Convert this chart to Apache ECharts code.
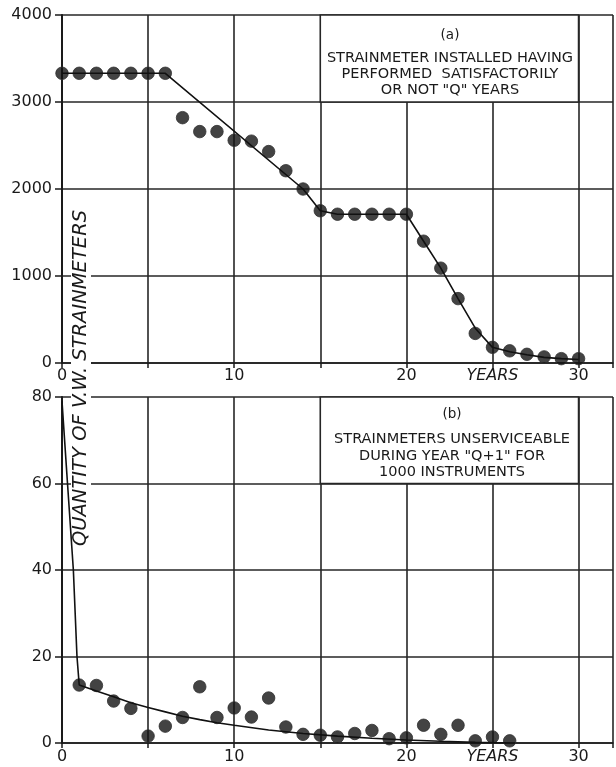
<!DOCTYPE html>
<html><head><meta charset="utf-8">
<script src="https://cdn.jsdelivr.net/npm/echarts@6/dist/echarts.min.js"></script>
<style>html,body{margin:0;padding:0;background:#fff}#c{width:616px;height:767px}</style>
</head><body><div id="c"></div>
<script>
// (a) strainmeters installed having performed satisfactorily or not "Q" years
const yearsA = [0,1,2,3,4,5,6,7,8,9,10,11,12,13,14,15,16,17,18,19,20,21,22,23,24,25,26,27,28,29,30];
const installedA = [3330,3330,3330,3330,3330,3330,3330,2820,2660,2660,2560,2550,2430,2210,2000,1750,1710,1710,1710,1710,1710,1400,1090,740,340,180,140,100,70,50,50];
const fitYearsA = [0,6,14,15,16,20,21,22,23,24,25,26,27,28,29,30];
const fitValuesA = [3330,3330,2000,1750,1710,1710,1400,1090,740,400,180,130,95,65,50,40];

// (b) strainmeters unserviceable during year "Q+1" for 1000 instruments
const yearsB = [1,2,3,4,5,6,7,8,9,10,11,12,13,14,15,16,17,18,19,20,21,22,23,24,25,26];
const unserviceableB = [13.4,13.3,9.7,8.0,1.6,3.9,5.9,13.0,5.9,8.1,6.0,10.4,3.7,2.0,1.8,1.4,2.2,2.9,1.0,1.2,4.1,2.0,4.1,0.5,1.4,0.5];
const fitYearsB = [0,0.32,0.66,0.87,1,2,3,4,5,6,7,8,9,10,12,14,16,18,20,22,24,26];
const fitValuesB = [79,60,40,20,13.4,12,10.7,9.3,8.2,7.2,6.2,5.4,4.7,4.1,3.0,2.2,1.6,1.1,0.7,0.4,0.15,0];

const yTicksA = [0,1000,2000,3000,4000];
const yTicksB = [0,20,40,60,80];
const xLabelValues = [0,10,20,25,30];
const xLabelTexts = ['0','10','20','YEARS','30'];
const boxA = {x:[15,30], y:[3000,4000]};
const boxB = {x:[15,30], y:[60,80]};
const textA = ['(a)','STRAINMETER INSTALLED HAVING','PERFORMED  SATISFACTORILY','OR NOT "Q" YEARS'];
const textB = ['(b)','STRAINMETERS UNSERVICEABLE','DURING YEAR "Q+1" FOR','1000 INSTRUMENTS'];
const yTitle = 'QUANTITY OF V.W. STRAINMETERS';

const INK = '#1a1a1a';
const FONT = 'DejaVu Sans';
const zip = (a,b) => a.map((v,i)=>[v,b[i]]);

function xAxis(gi, margin){
  return {
    type:'value', gridIndex:gi, min:0, max:32, interval:5,
    axisLine:{show:true, lineStyle:{color:INK, width:1.5}},
    axisTick:{show:true, length:5, lineStyle:{color:INK, width:1.5}},
    splitLine:{show:true, lineStyle:{color:'#262626', width:1.6}},
    axisLabel:{
      margin:margin, color:INK, fontSize:16, fontFamily:FONT,
      formatter:(v)=>{const i=xLabelValues.indexOf(v); if(i<0) return ''; const t=xLabelTexts[i]; return isNaN(+t)?'{i|'+t+'}':t;},
      rich:{i:{fontStyle:'italic', fontSize:16, fontFamily:FONT, color:INK}}
    }
  };
}
function yAxis(gi, ticks){
  return {
    type:'value', gridIndex:gi, min:ticks[0], max:ticks[ticks.length-1], interval:ticks[1]-ticks[0],
    axisLine:{show:true, lineStyle:{color:INK, width:2}},
    axisTick:{show:true, length:7, lineStyle:{color:INK, width:1.5}},
    splitLine:{show:true, lineStyle:{color:'#262626', width:1.6}},
    axisLabel:{margin:10, color:INK, fontSize:16, fontFamily:FONT, formatter:(v)=>String(v)}
  };
}
function boxArea(b){
  return {silent:true, itemStyle:{color:'#fff', borderColor:'#262626', borderWidth:1.6},
    data:[[{xAxis:b.x[0], yAxis:b.y[0]},{xAxis:b.x[1], yAxis:b.y[1]}]]};
}
function boxTexts(lines, cx, ys){
  return lines.map((t,i)=>({type:'text', x:cx, y:ys[i], z:100,
    style:{text:t, fill:INK, fontSize:i===0?13.5:14.5, fontFamily:FONT, align:'center', verticalAlign:'middle'}}));
}

const chart = echarts.init(document.getElementById('c'), null, {renderer:'canvas'});
chart.setOption({
  animation:false,
  backgroundColor:'#fff',
  grid:[{left:62, top:15, width:556, height:348},{left:62, top:397, width:556, height:346}],
  xAxis:[xAxis(0,5), xAxis(1,6)],
  yAxis:[yAxis(0,yTicksA), yAxis(1,yTicksB)],
  series:[
    {type:'scatter', xAxisIndex:0, yAxisIndex:0, data:zip(yearsA, installedA), symbolSize:12.5,
      itemStyle:{color:'#141414', borderColor:'#303030', borderWidth:1}, markArea:boxArea(boxA), z:3},
    {type:'line', xAxisIndex:0, yAxisIndex:0, data:zip(fitYearsA, fitValuesA), showSymbol:false,
      lineStyle:{color:'#111', width:1.6}, z:4},
    {type:'scatter', xAxisIndex:1, yAxisIndex:1, data:zip(yearsB, unserviceableB), symbolSize:12.5,
      itemStyle:{color:'#141414', borderColor:'#303030', borderWidth:1}, markArea:boxArea(boxB), z:3},
    {type:'line', xAxisIndex:1, yAxisIndex:1, data:zip(fitYearsB, fitValuesB), showSymbol:false,
      lineStyle:{color:'#111', width:1.6}, z:4}
  ],
  graphic:[
    {type:'text', x:81, y:378, rotation:Math.PI/2, z:1,
      style:{text:yTitle, fill:INK, fontSize:19.5, fontStyle:'italic', fontFamily:FONT,
        align:'center', verticalAlign:'middle', backgroundColor:'#fff', padding:[0,2]}},
    ...boxTexts(textA, 450, [35,58,74,90]),
    ...boxTexts(textB, 452, [414,439,456,472])
  ]
});
</script></body></html>
